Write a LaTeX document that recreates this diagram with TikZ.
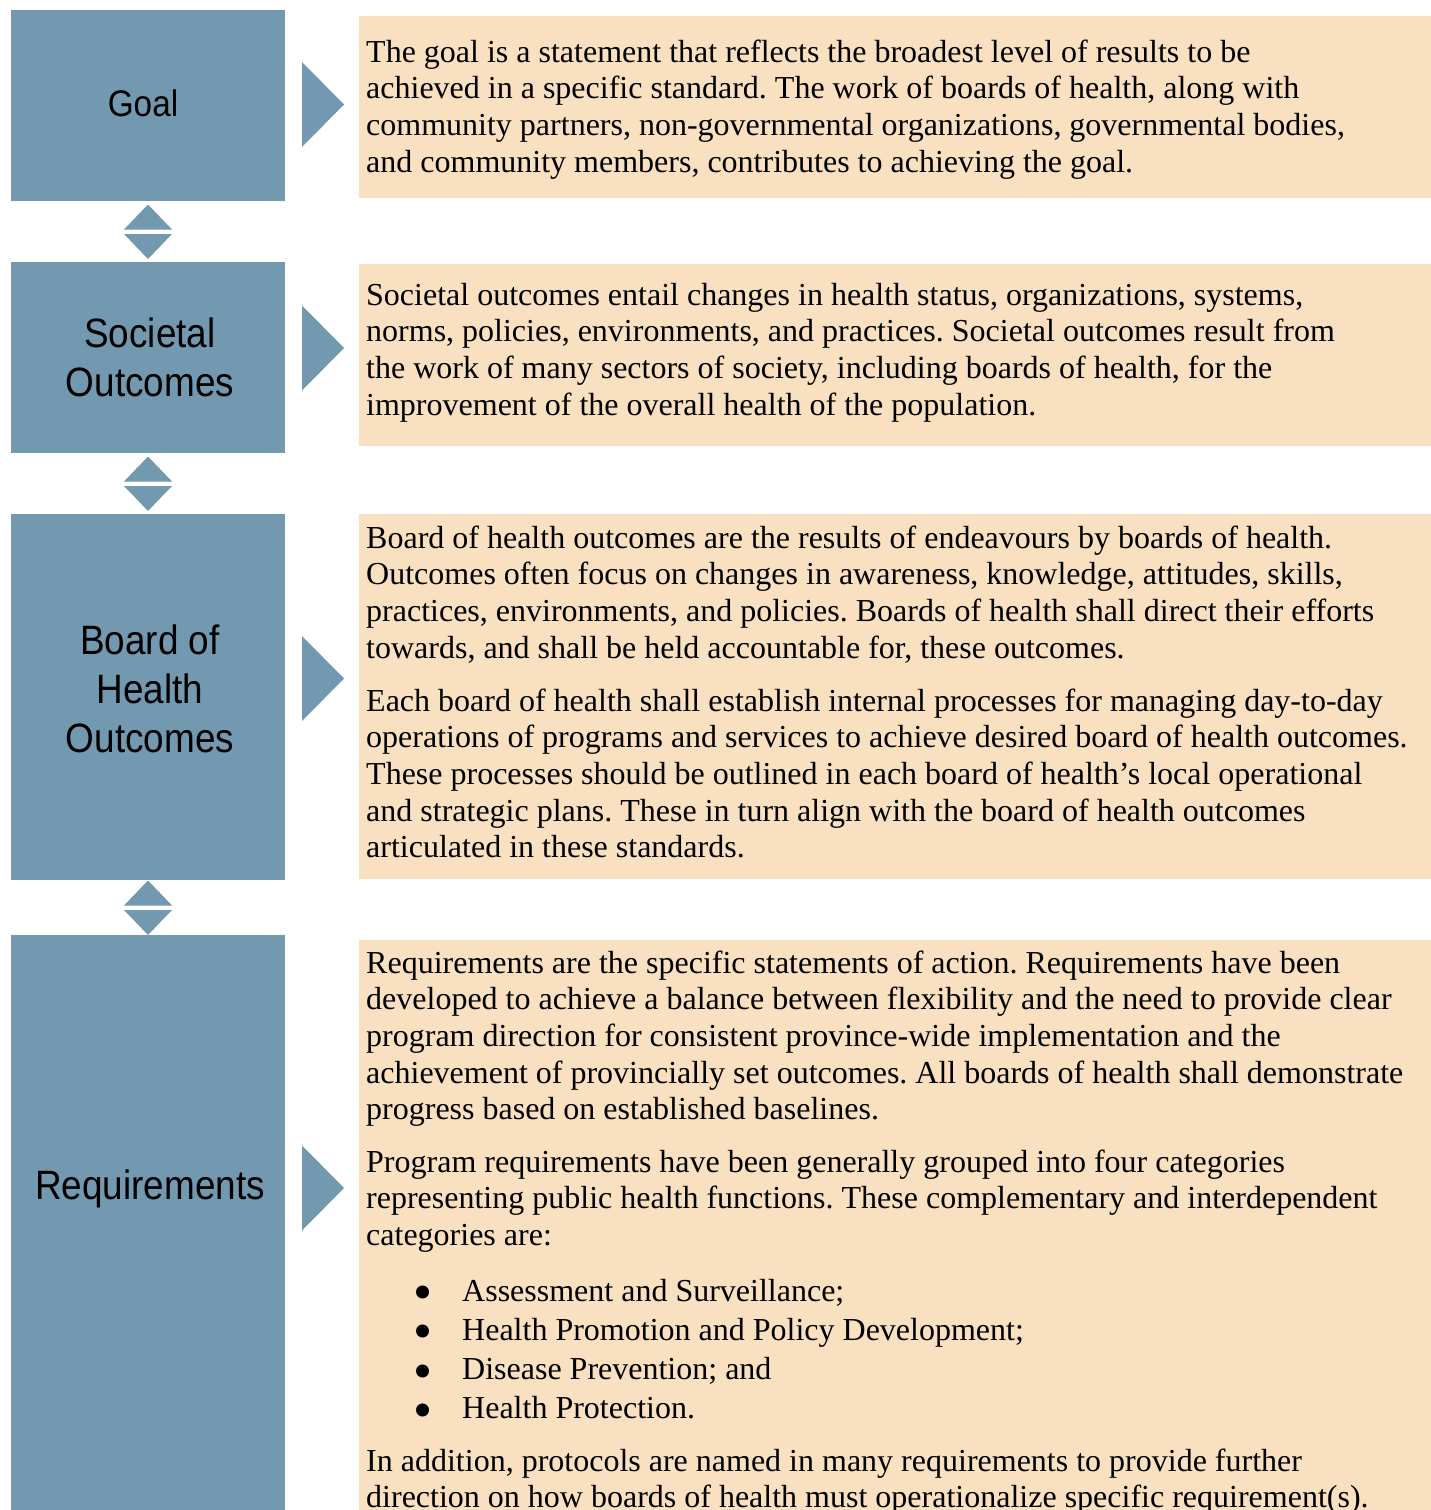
\documentclass[tikz,border=0pt]{standalone}
\usepackage{fontspec}
\setmainfont{Liberation Serif}
\newfontfamily\labfont[FakeStretch=0.9]{Liberation Sans}
\definecolor{boxblue}{RGB}{114,153,176}
\definecolor{peach}{RGB}{248,224,192}
\newcommand\paralines[1]{\vtop{\frenchspacing\halign{##\hfil\cr#1\crcr}}}
\newcommand\bigbullet{\raisebox{-9.5pt}{\scalebox{1.7}{\textbullet}}}
\newcommand\bulletlines[1]{\vtop{\frenchspacing\baselineskip=39.3pt\halign{\hspace*{47pt}\makebox[49pt][l]{\bigbullet}##\hfil\cr#1\crcr}}}
\begin{document}
\begin{tikzpicture}[x=1pt,y=-1pt,
  bluebox/.style={fill=boxblue, draw=none, inner sep=0pt, minimum width=274pt},
  peachbox/.style={fill=peach, draw=none, inner sep=0pt, minimum width=1072pt},
  lab/.style={font=\labfont\fontsize{41}{49}\selectfont, align=center, inner sep=0pt},
  body/.style={font=\fontsize{32}{36.7}\selectfont, inner sep=0pt, anchor=base west},
  marker/.style={fill=boxblue, draw=none}]
\useasboundingbox (0,0) rectangle (1431,1510);
\clip (0,0) rectangle (1431,1510);
% left boxes
\node[bluebox, minimum height=191pt] (goalbox) at (148,105.5) {};
\node[bluebox, minimum height=191pt] (socbox) at (148,357.5) {};
\node[bluebox, minimum height=366pt] (bohbox) at (148,697) {};
\node[bluebox, minimum height=580pt] (reqbox) at (148,1225) {};
% right boxes
\node[peachbox, minimum height=182pt] (goaltxt) at (895,107) {};
\node[peachbox, minimum height=182pt] (soctxt) at (895,355) {};
\node[peachbox, minimum height=365pt] (bohtxt) at (895,696.5) {};
\node[peachbox, minimum height=575pt] (reqtxt) at (895,1227.5) {};
% labels
\node[lab, font=\labfont\fontsize{37}{44}\selectfont] (goallab) at (143,103) {Goal};
\node[lab] (soclab) at (150,357) {Societal\\Outcomes};
\node[lab] (bohlab) at (150,689) {Board of\\Health\\Outcomes};
\node[lab] (reqlab) at (150,1189) {Requirements};
% right-pointing arrows
\foreach \c in {104.5,348,678.5,1188}{
  \fill[marker] (302,\c-42.5) -- (344,\c) -- (302,\c+42.5) -- cycle;
}
% double triangles between boxes
\foreach \m in {231.5,483.5,907.5}{
  \fill[marker] (148,\m-27) -- (172,\m-2) -- (124,\m-2) -- cycle;
  \fill[marker] (124,\m+2.5) -- (172,\m+2.5) -- (148,\m+27.5) -- cycle;
}
% texts
\node[body] (goalp) at (366,62) {\paralines{The goal is a statement that reflects the broadest level of results to be\cr
achieved in a specific standard. The work of boards of health, along with\cr
community partners, non-governmental organizations, governmental bodies,\cr
and community members, contributes to achieving the goal.}};
\node[body] (socp) at (366,305) {\paralines{Societal outcomes entail changes in health status, organizations, systems,\cr
norms, policies, environments, and practices. Societal outcomes result from\cr
the work of many sectors of society, including boards of health, for the\cr
improvement of the overall health of the population.}};
\node[body] (bohp1) at (366,548) {\paralines{Board of health outcomes are the results of endeavours by boards of health.\cr
Outcomes often focus on changes in awareness, knowledge, attitudes, skills,\cr
practices, environments, and policies. Boards of health shall direct their efforts\cr
towards, and shall be held accountable for, these outcomes.}};
\node[body] (bohp2) at (366,711) {\paralines{Each board of health shall establish internal processes for managing day-to-day\cr
operations of programs and services to achieve desired board of health outcomes.\cr
These processes should be outlined in each board of health’s local operational\cr
and strategic plans. These in turn align with the board of health outcomes\cr
articulated in these standards.}};
\node[body] (reqp1) at (366,973) {\paralines{Requirements are the specific statements of action. Requirements have been\cr
developed to achieve a balance between flexibility and the need to provide clear\cr
program direction for consistent province-wide implementation and the\cr
achievement of provincially set outcomes. All boards of health shall demonstrate\cr
progress based on established baselines.}};
\node[body] (reqp2) at (366,1172) {\paralines{Program requirements have been generally grouped into four categories\cr
representing public health functions. These complementary and interdependent\cr
categories are:}};
\node[body] (reqlist) at (366,1301) {\bulletlines{Assessment and Surveillance;\cr
Health Promotion and Policy Development;\cr
Disease Prevention; and\cr
Health Protection.}};
\node[body] (reqp3) at (366,1471) {\paralines{In addition, protocols are named in many requirements to provide further\cr
direction on how boards of health must operationalize specific requirement(s).}};
\end{tikzpicture}
\end{document}
